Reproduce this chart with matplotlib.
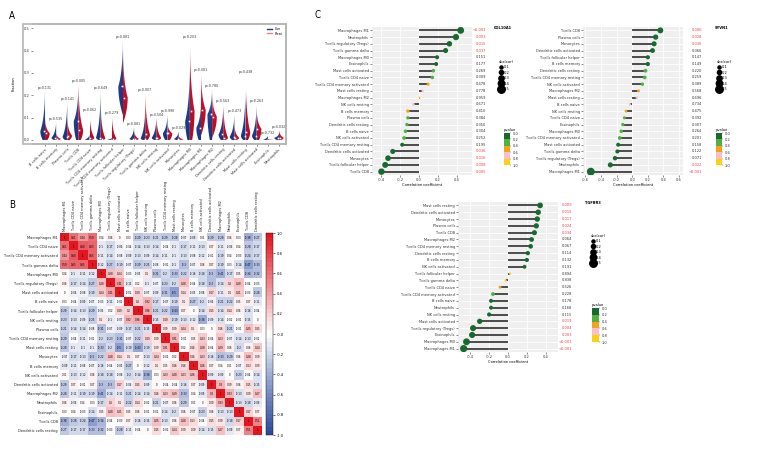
import numpy as np
import matplotlib
matplotlib.use("Agg")
import matplotlib.pyplot as plt
from matplotlib import font_manager as fm
from matplotlib.colors import LinearSegmentedColormap, ListedColormap, BoundaryNorm
from matplotlib.patches import Polygon, Rectangle
from matplotlib.lines import Line2D
from matplotlib.transforms import blended_transform_factory
import matplotlib.cm as cm

# pick a narrow font if one is installed (reference uses an Arial Narrow look)
FS = 2.7
fam, stretch = "Liberation Sans", "normal"
for key in ["LiberationSansNarrow-Regular", "DejaVuSansCondensed.", "RobotoCondensed-Regular",
            "OpenSans_Condensed-Regular", "NotoSans-Condensed", "Condensed"]:
    hits = [f for f in fm.fontManager.ttflist if key in f.fname and "Bold" not in f.fname
            and "Oblique" not in f.fname and "Italic" not in f.fname]
    if hits:
        fam, stretch = hits[0].name, hits[0].stretch
        FS = 2.9
        break
plt.rcParams['font.family'] = [fam, 'DejaVu Sans']
plt.rcParams['font.stretch'] = stretch

W, H = 784, 461

# ---------------- panel A data ----------------
cells_a = ["B cells naive", "B cells memory", "Plasma cells", "T cells CD8", "T cells CD4 naive",
           "T cells CD4 memory resting", "T cells CD4 memory activated", "T cells follicular helper",
           "T cells regulatory (Tregs)", "T cells gamma delta", "NK cells resting", "NK cells activated",
           "Monocytes", "Macrophages M0", "Macrophages M1", "Macrophages M2", "Dendritic cells resting",
           "Dendritic cells activated", "Mast cells resting", "Mast cells activated", "Eosinophils", "Neutrophils"]
con_min = [0, 0, 0, 0, 0, 0, 0, 0.11, 0, 0, 0, 0, 0, 0, 0, 0, 0, 0, 0, 0, 0, 0]
con_med = [0.04, 0.01, 0.015, 0.085, 0.002, 0.01, 0.001, 0.24, 0.005, 0.003, 0.01, 0.03,
           0.005, 0.085, 0.055, 0.115, 0.025, 0.015, 0.02, 0.02, 0.001, 0.01]
con_max = [0.22, 0.08, 0.17, 0.24, 0.025, 0.22, 0.01, 0.45, 0.06, 0.14, 0.10, 0.115,
           0.04, 0.33, 0.165, 0.23, 0.145, 0.115, 0.22, 0.16, 0.02, 0.03]
treat_min = [0, 0, 0, 0, 0, 0, 0, 0.075, 0, 0, 0, 0, 0, 0, 0.02, 0.01, 0, 0, 0, 0, 0, 0]
treat_med = [0.03, 0.005, 0.02, 0.045, 0.01, 0.005, 0.005, 0.19, 0.005, 0.025, 0.01, 0.03,
             0.002, 0.13, 0.135, 0.105, 0.01, 0.01, 0.035, 0.05, 0.001, 0.01]
treat_max = [0.095, 0.03, 0.095, 0.25, 0.12, 0.145, 0.11, 0.40, 0.04, 0.21, 0.10, 0.075,
             0.02, 0.45, 0.30, 0.21, 0.16, 0.065, 0.29, 0.135, 0.005, 0.045]
pvals_a = ["0.131", "0.535", "0.141", "0.005", "0.062", "0.649", "0.279", "0.081", "0.881", "0.007",
           "0.504", "0.990", "0.029", "0.203", "0.001", "0.780", "0.563", "0.473", "0.438", "0.263",
           "0.732", "0.032"]

# ---------------- panel B data ----------------
cells_b = ["Macrophages M1", "T cells CD4 naive", "T cells CD4 memory activated", "T cells gamma delta",
           "Macrophages M0", "T cells regulatory (Tregs)", "Mast cells activated", "B cells naive",
           "T cells follicular helper", "NK cells resting", "Plasma cells", "T cells CD4 memory resting",
           "Mast cells resting", "Monocytes", "B cells memory", "NK cells activated",
           "Dendritic cells activated", "Macrophages M2", "Neutrophils", "Eosinophils", "T cells CD8",
           "Dendritic cells resting"]
corr_rows = [
    [1, 0.61, 0.44, 0.59, 0.04, 0.06, 0.00, 0.03, -0.29, -0.23, -0.21, -0.29, -0.28, -0.07, -0.09, 0.01, -0.29, -0.28, 0.06, 0.03, -0.38, -0.27],
    [0.61, 1, 0.68, 0.65, -0.10, -0.17, -0.06, -0.04, -0.14, -0.13, -0.14, -0.04, -0.10, -0.17, -0.11, -0.13, 0.07, -0.11, -0.06, 0.04, -0.28, -0.17],
    [0.44, 0.68, 1, 0.65, -0.11, -0.14, -0.08, -0.09, -0.13, -0.09, -0.14, -0.11, -0.10, -0.13, -0.08, -0.12, -0.01, -0.19, 0.04, -0.03, -0.24, -0.17],
    [0.59, 0.65, 0.65, 1, -0.12, -0.27, -0.19, -0.07, -0.29, -0.25, -0.08, -0.01, -0.10, -0.30, -0.07, 0.06, 0.07, -0.19, 0.03, -0.14, -0.47, -0.33],
    [0.04, -0.10, -0.11, -0.12, 1, 0.28, 0.24, -0.03, -0.05, 0.10, -0.31, -0.20, -0.33, -0.22, -0.16, -0.18, -0.30, -0.41, -0.17, 0.05, -0.34, -0.32],
    [0.06, -0.17, -0.14, -0.27, 0.28, 1, 0.41, -0.11, 0.02, -0.10, -0.07, -0.23, -0.20, 0.28, -0.04, -0.18, -0.30, -0.14, 0.20, 0.28, -0.04, -0.03],
    [0.00, -0.06, -0.08, -0.19, 0.24, 0.41, 1, -0.02, 0.19, -0.07, -0.09, -0.31, -0.50, 0.14, -0.05, -0.08, 0.17, -0.11, 0.10, 0.21, -0.03, -0.28],
    [0.03, -0.04, -0.09, -0.07, -0.03, -0.11, -0.02, 1, 0.20, 0.32, -0.17, -0.07, -0.19, 0.10, -0.27, -0.20, -0.06, -0.21, -0.22, 0.05, 0.07, -0.11],
    [-0.29, -0.14, -0.13, -0.29, -0.05, 0.02, 0.19, 0.20, 1, 0.36, -0.21, -0.22, -0.43, 0.07, 0.00, -0.14, 0.15, -0.14, 0.14, 0.06, -0.16, -0.04],
    [-0.23, -0.13, -0.09, -0.25, 0.10, -0.10, -0.07, 0.32, 0.36, 1, -0.15, 0.19, -0.19, -0.13, -0.12, -0.38, -0.09, -0.14, -0.02, -0.01, -0.15, 0.00],
    [-0.21, -0.14, -0.14, -0.08, -0.31, -0.07, -0.09, -0.17, -0.21, -0.15, 1, 0.09, 0.09, 0.24, 0.10, 0.03, 0.00, 0.16, -0.21, -0.01, 0.25, 0.15],
    [-0.29, -0.04, -0.11, -0.01, -0.20, -0.23, -0.31, -0.07, -0.22, 0.19, 0.09, 1, 0.31, -0.01, 0.05, 0.23, -0.04, 0.23, -0.07, -0.14, -0.13, -0.02],
    [-0.28, -0.10, -0.10, -0.10, -0.33, -0.20, -0.50, -0.19, -0.43, -0.19, 0.09, 0.31, 1, 0.02, 0.16, 0.28, -0.04, 0.29, 0.06, -0.20, 0.06, 0.24],
    [-0.07, -0.17, -0.13, -0.30, -0.22, 0.28, 0.14, 0.10, 0.07, -0.13, 0.24, -0.01, 0.02, 1, 0.16, 0.23, -0.16, -0.33, -0.29, 0.06, 0.28, 0.09],
    [-0.09, -0.11, -0.08, -0.07, -0.16, -0.04, -0.05, -0.27, 0.00, -0.12, 0.10, 0.05, 0.16, 0.16, 1, 0.26, 0.07, 0.04, 0.01, -0.07, 0.13, 0.09],
    [0.01, -0.13, -0.12, 0.06, -0.18, -0.18, -0.08, -0.20, -0.14, -0.38, 0.03, 0.23, 0.28, 0.23, 0.26, 1, -0.09, -0.09, 0.00, -0.23, -0.04, -0.14],
    [-0.29, 0.07, -0.01, 0.07, -0.30, -0.30, 0.17, -0.06, 0.15, -0.09, 0.00, -0.04, -0.04, -0.16, 0.07, -0.09, 1, 0.30, 0.09, 0.06, 0.15, -0.15],
    [-0.28, -0.11, -0.19, -0.19, -0.41, -0.14, -0.11, -0.21, -0.14, -0.14, 0.16, 0.23, 0.29, -0.33, 0.04, -0.09, 0.30, 1, 0.33, -0.13, 0.09, 0.27],
    [0.06, -0.06, 0.04, 0.03, -0.17, 0.20, 0.10, -0.22, 0.14, -0.02, -0.21, -0.07, 0.06, -0.29, 0.01, 0.00, 0.09, 0.33, 1, -0.13, -0.18, -0.09],
    [0.03, 0.04, -0.03, -0.14, 0.05, 0.28, 0.21, 0.05, 0.06, -0.01, -0.01, -0.14, -0.20, 0.06, -0.07, -0.23, 0.06, -0.13, -0.13, 1, 0.17, 0.07],
    [-0.38, -0.28, -0.24, -0.47, -0.34, -0.04, -0.03, 0.07, -0.16, -0.15, 0.25, -0.13, 0.06, 0.28, 0.13, -0.04, 0.15, 0.09, -0.18, 0.17, 1, 0.51],
    [-0.27, -0.17, -0.17, -0.33, -0.32, -0.03, -0.28, -0.11, -0.04, 0.00, 0.15, -0.02, 0.24, 0.09, 0.09, -0.14, -0.15, 0.27, -0.09, 0.07, 0.51, 1],
]

# ---------------- panel C data ----------------
col_names = ["Macrophages M1", "Neutrophils", "T cells regulatory (Tregs)", "T cells gamma delta",
             "Macrophages M0", "Eosinophils", "Mast cells activated", "T cells CD4 naive",
             "T cells CD4 memory activated", "Mast cells resting", "Macrophages M2", "NK cells resting",
             "B cells memory", "Plasma cells", "Dendritic cells resting", "B cells naive",
             "NK cells activated", "T cells CD4 memory resting", "Dendritic cells activated",
             "Monocytes", "T cells follicular helper", "T cells CD8"]
col_cor = [0.44, 0.39, 0.32, 0.28, 0.19, 0.18, 0.15, 0.14, 0.095, 0.036, 0.004, -0.06,
           -0.12, -0.12, -0.13, -0.145, -0.16, -0.18, -0.28, -0.33, -0.36, -0.40]
col_p = [0.0, 0.003, 0.015, 0.037, 0.151, 0.177, 0.269, 0.309, 0.478, 0.778, 0.959, 0.671,
         0.410, 0.384, 0.350, 0.304, 0.252, 0.195, 0.036, 0.016, 0.008, 0.005]

syv_names = ["T cells CD8", "Plasma cells", "Monocytes", "Dendritic cells activated",
             "T cells follicular helper", "B cells memory", "Dendritic cells resting",
             "T cells CD4 memory resting", "NK cells activated", "Macrophages M2", "Mast cells resting",
             "B cells naive", "NK cells resting", "T cells CD4 naive", "Eosinophils", "Macrophages M0",
             "T cells CD4 memory activated", "Mast cells activated", "T cells gamma delta",
             "T cells regulatory (Tregs)", "Neutrophils", "Macrophages M1"]
syv_cor = [0.36, 0.30, 0.28, 0.26, 0.20, 0.20, 0.17, 0.16, 0.13, 0.08, 0.06, -0.03, -0.08,
           -0.10, -0.12, -0.14, -0.16, -0.18, -0.19, -0.22, -0.28, -0.53]
syv_p = [0.006, 0.028, 0.036, 0.066, 0.147, 0.149, 0.220, 0.259, 0.389, 0.568, 0.696, 0.734,
         0.475, 0.392, 0.307, 0.264, 0.201, 0.158, 0.122, 0.071, 0.022, 0.0]

tgf_names = ["Mast cells resting", "Dendritic cells activated", "Monocytes", "Plasma cells",
             "T cells CD8", "Macrophages M2", "T cells CD4 memory resting", "Dendritic cells resting",
             "B cells memory", "NK cells activated", "T cells follicular helper", "T cells gamma delta",
             "T cells CD4 naive", "T cells CD4 memory activated", "B cells naive", "Neutrophils",
             "NK cells resting", "Mast cells activated", "T cells regulatory (Tregs)", "Eosinophils",
             "Macrophages M0", "Macrophages M1"]
tgf_cor = [0.34, 0.32, 0.31, 0.30, 0.28, 0.25, 0.24, 0.21, 0.20, 0.175, 0.02, -0.025, -0.085,
           -0.16, -0.18, -0.18, -0.20, -0.30, -0.37, -0.38, -0.44, -0.47]
tgf_p = [0.009, 0.015, 0.017, 0.024, 0.034, 0.064, 0.067, 0.114, 0.132, 0.191, 0.894, 0.838,
         0.526, 0.228, 0.178, 0.168, 0.115, 0.019, 0.004, 0.003, 0.0, 0.0]

p_bins = [0.0, 0.2, 0.4, 0.6, 0.8, 1.0]
p_colors = ["#17692f", "#52b043", "#f5a11c", "#f7bfcc", "#fcd20f"]
size_levels = [0.1, 0.2, 0.3, 0.4, 0.5]

fig = plt.figure(figsize=(W / 100, H / 100), dpi=100)


def px_axes(x0, y0, x1, y1):
    return fig.add_axes([x0 / W, 1 - y1 / H, (x1 - x0) / W, (y1 - y0) / H])


# ================= A: split violins =================
axA = px_axes(33, 24, 286, 144)
fig.patches.append(Rectangle((23 / W, 1 - 144 / H), 263 / W, 120 / H, transform=fig.transFigure,
                             fill=False, ec="#b5b5b5", lw=1.2, zorder=0))
blue_cm = LinearSegmentedColormap.from_list("b", ["#dfe2ea", "#8d9cc6", "#24428f", "#1a3580"])
red_cm = LinearSegmentedColormap.from_list("r", ["#f3e2e3", "#e3868c", "#c8102e", "#b00d24"])


def half_violin(ax, xc, lo, med, hi, side, cmap):
    if hi - lo < 1e-4:
        hi = lo + 0.002
    t = np.linspace(0, 1, 120)
    p = np.clip((med - lo) / (hi - lo), 0.05, 0.8)
    base = 0.5 if lo == 0 else 1.0
    below = 1 - base * ((p - t) / p) ** 2
    u = (t - p) / (1 - p)
    above = np.exp(-2.4 * u) * (1 - u) ** 0.5
    w = np.where(t < p, below, above) * 0.42
    y = lo + t * (hi - lo)
    sgn = -1 if side == "left" else 1
    verts = [(xc, lo)] + list(zip(xc + sgn * w, y)) + [(xc, hi)]
    poly = Polygon(verts, closed=True, fc="none", ec="none")
    ax.add_patch(poly)
    grad = np.linspace(0, 1, 100).reshape(-1, 1) ** 0.5
    x0, x1 = (xc - 0.45, xc) if side == "left" else (xc, xc + 0.45)
    im = ax.imshow(grad, extent=[x0, x1, lo, hi], origin="upper", cmap=cmap, aspect="auto",
                   interpolation="bilinear", zorder=2)
    im.set_clip_path(poly)
    ax.plot([xc + sgn * 0.07], [med], marker="s", ms=1.2, color="white", mec="none", zorder=4)


for i in range(len(cells_a)):
    half_violin(axA, i, con_min[i], con_med[i], con_max[i], "left", blue_cm)
    half_violin(axA, i, treat_min[i], treat_med[i], treat_max[i], "right", red_cm)
    top = max(con_max[i], treat_max[i])
    axA.text(i, top + 0.004, "p=" + pvals_a[i], ha="center", va="bottom", fontsize=FS * 0.9, color="#333")

axA.set_xlim(-1.08, 21.63)
axA.set_ylim(-0.018, 0.519)
axA.set_yticks([0, 0.1, 0.2, 0.3, 0.4, 0.5])
axA.set_yticklabels(["0.0", "0.1", "0.2", "0.3", "0.4", "0.5"], fontsize=FS)
axA.set_xticks(range(len(cells_a)))
axA.set_xticklabels(cells_a, rotation=45, ha="right", rotation_mode="anchor", fontsize=FS)
axA.tick_params(length=1.5, width=0.4, pad=1, colors="#333")
for s in ["top", "right", "bottom"]:
    axA.spines[s].set_color("#b5b5b5")
    axA.spines[s].set_linewidth(1.2)
axA.spines["left"].set_visible(False)
axA.set_ylabel("Fraction", fontsize=FS, labelpad=6)
axA.legend(handles=[Line2D([], [], color="#1d3c8c", lw=1), Line2D([], [], color="#e3868c", lw=1)],
           labels=["Con", "Treat"], loc="upper right", fontsize=FS * 0.9, frameon=False,
           handlelength=1.6, borderaxespad=0.4, labelspacing=0.2)

# ================= B: heatmap =================
corr = np.array(corr_rows, dtype=float)
axB = px_axes(60, 233, 262, 435)
hm_cm = LinearSegmentedColormap.from_list("hm", ["#2d4b9c", "#8a9ccd", "#ffffff", "#ef8a8f", "#e2161e"], N=48)
im = axB.imshow(corr, cmap=hm_cm, vmin=-1, vmax=1, aspect="auto")
n = len(cells_b)
for r in range(n):
    for c in range(n):
        v = corr[r, c]
        lab = "1" if r == c else (f"{v:.2f}".rstrip("0").rstrip(".") if abs(v) > 1e-9 else "0")
        axB.text(c, r, lab, ha="center", va="center", fontsize=2.1, color="black")
axB.set_xticks(range(n))
axB.set_yticks(range(n))
axB.set_yticklabels(cells_b, fontsize=FS)
axB.xaxis.tick_top()
axB.set_xticklabels(cells_b, rotation=90, fontsize=FS)
axB.tick_params(length=0, pad=1.5, colors="#222")
for s in axB.spines.values():
    s.set_visible(False)
caxB = px_axes(266, 233, 273, 435)
cb = fig.colorbar(im, cax=caxB, ticks=np.arange(-1, 1.01, 0.2))
cb.ax.set_yticklabels([f"{t:.1f}" for t in np.arange(-1, 1.01, 0.2)], fontsize=FS)
cb.ax.tick_params(length=1.5, width=0.4, pad=1)
cb.outline.set_linewidth(0.3)

# ================= C: lollipops =================
p_cmap = ListedColormap(p_colors)
p_norm = BoundaryNorm(p_bins, p_cmap.N)


def dot_pt(r):
    return (2.0 + 11 * abs(r)) * 0.72


def lollipop(rect, names, cors, pvals, gene, xlim, xticks, ptext_x, title_px, size_px, pbar_px):
    ax = px_axes(*rect)
    k = len(names)
    ypos = np.arange(k)[::-1]
    ax.set_facecolor("#efefef")
    ax.hlines(ypos, 0, cors, color="#2e2e2e", lw=1.2, zorder=2)
    ax.scatter(cors, ypos, s=[dot_pt(c) ** 2 for c in cors], c=pvals, cmap=p_cmap, norm=p_norm,
               zorder=3, linewidths=0)
    ax.set_ylim(-0.5, k - 0.5)
    ax.set_xlim(xlim)
    ax.set_yticks(ypos)
    ax.set_yticklabels(names, fontsize=FS)
    ax.set_xticks(xticks)
    ax.set_xticklabels([f"{t:.1f}" for t in xticks], fontsize=FS)
    ax.grid(color="white", lw=0.6)
    ax.set_axisbelow(True)
    for s in ax.spines.values():
        s.set_visible(False)
    ax.tick_params(length=1.2, width=0.4, pad=1, colors="#333")
    ax.set_xlabel("Correlation coefficient", fontsize=FS, labelpad=1)
    trans = blended_transform_factory(ax.transAxes, ax.transData)
    for y, p in zip(ypos, pvals):
        txt = "<0.001" if p < 0.001 else f"{p:.3f}"
        ax.text(ptext_x, y, txt, transform=trans, ha="right", va="center", fontsize=FS,
                color="#ee3b46" if p < 0.05 else "#333")
    fig.text(title_px[0] / W, 1 - title_px[1] / H, gene, fontsize=FS, ha="center", va="top",
             fontweight="bold")
    handles = [Line2D([], [], ls="", marker="o", color="black", ms=dot_pt(s)) for s in size_levels]
    leg = ax.legend(handles, [f"{s:.1f}" for s in size_levels], title="abs(cor)", fontsize=FS,
                    title_fontsize=FS, frameon=False, loc="upper left", handletextpad=0.2,
                    labelspacing=0.35, borderpad=0, handlelength=1.0,
                    bbox_to_anchor=(size_px[0] / W, 1 - size_px[1] / H),
                    bbox_transform=fig.transFigure)
    leg._legend_box.align = "left"
    cax = px_axes(*pbar_px)
    cbp = fig.colorbar(cm.ScalarMappable(norm=p_norm, cmap=p_cmap), cax=cax, ticks=p_bins)
    cax.invert_yaxis()
    cax.set_yticklabels([f"{t:.1f}" for t in p_bins], fontsize=FS)
    cax.tick_params(length=1.0, width=0.3, pad=1, colors="#333")
    cbp.outline.set_visible(False)
    cax.set_title("pvalue", fontsize=FS, pad=1.5, loc="left")
    return ax


lollipop((372, 27, 472, 175), col_names, col_cor, col_p, "COL10A1", (-0.5, 0.56),
         [-0.4, -0.2, 0.0, 0.2, 0.4], 1.14, (503, 26), (497, 58), (504, 133, 510, 165))
lollipop((583, 27, 683, 175), syv_names, syv_cor, syv_p, "SYVN1", (-0.63, 0.65),
         [-0.6, -0.4, -0.2, 0.0, 0.2, 0.4, 0.6], 1.19, (722, 26), (715, 58), (716, 133, 722, 165))
lollipop((458, 202, 558, 352), tgf_names, tgf_cor, tgf_p, "TGFBR3", (-0.53, 0.53),
         [-0.4, -0.2, 0.0, 0.2, 0.4], 1.14, (593, 201), (589, 232), (592, 308, 599, 342))

# panel letters
for lab, x, y in [("A", 12, 16), ("B", 12, 205), ("C", 318, 15)]:
    fig.text(x / W, 1 - y / H, lab, fontsize=7, ha="center", va="center")

fig.savefig("out.png", dpi=100)
